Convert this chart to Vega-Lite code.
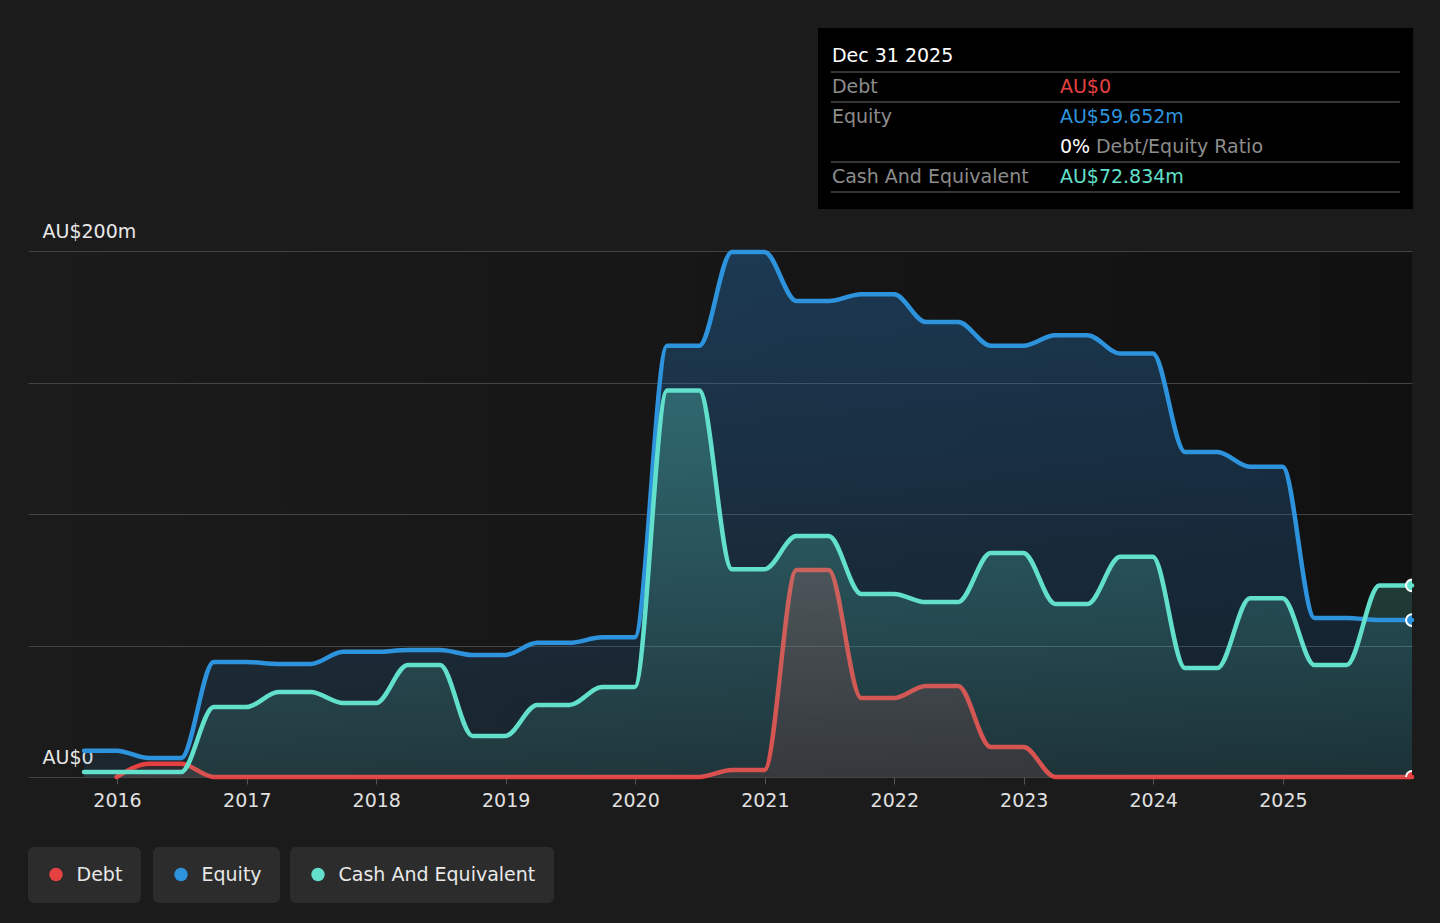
{
  "$schema": "https://vega.github.io/schema/vega-lite/v6.json",
  "width": 1384,
  "height": 526,
  "autosize": {"type": "none"},
  "padding": {"left": 28, "top": 251, "right": 28, "bottom": 146},
  "background": "#1b1b1b",
  "datasets": {
    "fin": [
      {"date": "2015-09-30", "equity": 10.0, "cash": 1.9, "debt": null},
      {"date": "2015-12-31", "equity": 10.0, "cash": 1.9, "debt": 0},
      {"date": "2016-03-31", "equity": 7.2, "cash": 1.9, "debt": 5.0},
      {"date": "2016-06-30", "equity": 7.2, "cash": 1.9, "debt": 5.0},
      {"date": "2016-09-30", "equity": 43.7, "cash": 26.6, "debt": 0},
      {"date": "2016-12-31", "equity": 43.7, "cash": 26.6, "debt": 0},
      {"date": "2017-03-31", "equity": 43.0, "cash": 32.3, "debt": 0},
      {"date": "2017-06-30", "equity": 43.0, "cash": 32.3, "debt": 0},
      {"date": "2017-09-30", "equity": 47.6, "cash": 28.1, "debt": 0},
      {"date": "2017-12-31", "equity": 47.6, "cash": 28.1, "debt": 0},
      {"date": "2018-03-31", "equity": 48.3, "cash": 42.6, "debt": 0},
      {"date": "2018-06-30", "equity": 48.3, "cash": 42.6, "debt": 0},
      {"date": "2018-09-30", "equity": 46.4, "cash": 15.6, "debt": 0},
      {"date": "2018-12-31", "equity": 46.4, "cash": 15.6, "debt": 0},
      {"date": "2019-03-31", "equity": 51.0, "cash": 27.4, "debt": 0},
      {"date": "2019-06-30", "equity": 51.0, "cash": 27.4, "debt": 0},
      {"date": "2019-09-30", "equity": 53.1, "cash": 34.2, "debt": 0},
      {"date": "2019-12-31", "equity": 53.1, "cash": 34.2, "debt": 0},
      {"date": "2020-03-31", "equity": 164.0, "cash": 147.0, "debt": 0},
      {"date": "2020-06-30", "equity": 164.0, "cash": 147.0, "debt": 0},
      {"date": "2020-09-30", "equity": 199.6, "cash": 79.0, "debt": 2.7},
      {"date": "2020-12-31", "equity": 199.6, "cash": 79.0, "debt": 2.7},
      {"date": "2021-03-31", "equity": 181.0, "cash": 91.6, "debt": 78.7},
      {"date": "2021-06-30", "equity": 181.0, "cash": 91.6, "debt": 78.7},
      {"date": "2021-09-30", "equity": 183.6, "cash": 69.6, "debt": 30.0},
      {"date": "2021-12-31", "equity": 183.6, "cash": 69.6, "debt": 30.0},
      {"date": "2022-03-31", "equity": 173.0, "cash": 66.5, "debt": 34.6},
      {"date": "2022-06-30", "equity": 173.0, "cash": 66.5, "debt": 34.6},
      {"date": "2022-09-30", "equity": 164.0, "cash": 85.2, "debt": 11.4},
      {"date": "2022-12-31", "equity": 164.0, "cash": 85.2, "debt": 11.4},
      {"date": "2023-03-31", "equity": 168.0, "cash": 65.8, "debt": 0},
      {"date": "2023-06-30", "equity": 168.0, "cash": 65.8, "debt": 0},
      {"date": "2023-09-30", "equity": 161.0, "cash": 83.7, "debt": 0},
      {"date": "2023-12-31", "equity": 161.0, "cash": 83.7, "debt": 0},
      {"date": "2024-03-31", "equity": 123.6, "cash": 41.4, "debt": 0},
      {"date": "2024-06-30", "equity": 123.6, "cash": 41.4, "debt": 0},
      {"date": "2024-09-30", "equity": 118.0, "cash": 68.0, "debt": 0},
      {"date": "2024-12-31", "equity": 118.0, "cash": 68.0, "debt": 0},
      {"date": "2025-03-31", "equity": 60.5, "cash": 42.6, "debt": 0},
      {"date": "2025-06-30", "equity": 60.5, "cash": 42.6, "debt": 0},
      {"date": "2025-09-30", "equity": 59.652, "cash": 72.834, "debt": 0},
      {"date": "2025-12-31", "equity": 59.652, "cash": 72.834, "debt": 0}
    ],
    "tip": [
      {"row": 0, "label": "Dec 31 2025", "value": "", "kind": "title", "extra": ""},
      {"row": 1, "label": "Debt", "value": "AU$0", "kind": "Debt", "extra": ""},
      {"row": 2, "label": "Equity", "value": "AU$59.652m", "kind": "Equity", "extra": ""},
      {"row": 3, "label": "", "value": "0%", "kind": "ratio", "extra": "Debt/Equity Ratio"},
      {"row": 4, "label": "Cash And Equivalent", "value": "AU$72.834m", "kind": "Cash", "extra": ""}
    ]
  },
  "layer": [
    {
      "data": {"name": "fin"},
      "encoding": {
        "x": {
          "field": "date",
          "type": "temporal",
          "scale": {"domain": [{"year": 2015, "month": 4, "date": 25}, {"year": 2025, "month": 12, "date": 31}]},
          "axis": {
            "format": "%Y",
            "tickCount": {"interval": "year", "step": 1},
            "grid": false,
            "domain": false,
            "tickColor": "#555555",
            "tickSize": 7,
            "labelFontSize": 19,
            "labelColor": "#e0e0e0",
            "labelPadding": 7,
            "labelFlush": false,
            "title": null
          }
        }
      },
      "layer": [
        {
          "mark": {
            "type": "area",
            "interpolate": "monotone",
            "color": {"gradient": "linear", "x1": 0, "y1": 0, "x2": 0, "y2": 1,
              "stops": [{"offset": 0, "color": "rgba(38,120,190,0.36)"}, {"offset": 1, "color": "rgba(38,120,190,0.12)"}]}
          },
          "encoding": {
            "y": {
              "field": "equity",
              "type": "quantitative",
              "scale": {"domain": [0, 200], "nice": false, "zero": true},
              "axis": {
                "values": [0, 50, 100, 150, 200],
                "labelExpr": "datum.value == 0 ? 'AU$0' : (datum.value == 200 ? 'AU$200m' : '')",
                "grid": true,
                "gridColor": "#444444",
                "gridWidth": 1,
                "domain": false,
                "ticks": false,
                "tickSize": 0,
                "labelAlign": "left",
                "labelBaseline": "alphabetic",
                "labelPadding": -14,
                "labelOffset": -14,
                "labelFontSize": 19,
                "labelColor": "#e8e8e8",
                "labelFlush": false,
                "labelOverlap": false,
                "title": null
              }
            }
          }
        },
        {
          "mark": {
            "type": "area",
            "interpolate": "monotone",
            "color": {"gradient": "linear", "x1": 0, "y1": 0, "x2": 0, "y2": 1,
              "stops": [{"offset": 0, "color": "rgba(230,65,65,0.22)"}, {"offset": 1, "color": "rgba(230,65,65,0.12)"}]}
          },
          "encoding": {"y": {"field": "debt", "type": "quantitative"}}
        },
        {
          "mark": {"type": "line", "interpolate": "monotone", "color": "#e64141", "strokeWidth": 4.5, "strokeCap": "round"},
          "encoding": {"y": {"field": "debt", "type": "quantitative"}}
        },
        {
          "mark": {
            "type": "area",
            "interpolate": "monotone",
            "color": {"gradient": "linear", "x1": 0, "y1": 0, "x2": 0, "y2": 1,
              "stops": [{"offset": 0, "color": "rgba(95,224,200,0.30)"}, {"offset": 1, "color": "rgba(95,224,200,0.10)"}]}
          },
          "encoding": {"y": {"field": "cash", "type": "quantitative"}}
        },
        {
          "mark": {"type": "line", "interpolate": "monotone", "color": "#2e93dd", "strokeWidth": 4.5, "strokeCap": "round"},
          "encoding": {"y": {"field": "equity", "type": "quantitative"}}
        },
        {
          "mark": {"type": "line", "interpolate": "monotone", "color": "#62e0cb", "strokeWidth": 4.5, "strokeCap": "round"},
          "encoding": {"y": {"field": "cash", "type": "quantitative"}}
        },
        {
          "transform": [{"filter": "utcyear(datum.date) == 2025 && utcmonth(datum.date) == 11"}],
          "mark": {"type": "point", "filled": true, "opacity": 1, "size": 140, "stroke": "#ffffff", "strokeWidth": 2, "clip": true},
          "encoding": {
            "y": {"field": "debt", "type": "quantitative"},
            "fill": {
              "datum": "Debt",
              "type": "nominal",
              "scale": {"domain": ["Debt"], "range": ["#e64141"]},
              "legend": {"orient": "none", "legendX": 0, "legendY": 596, "title": null}
            }
          }
        },
        {
          "transform": [{"filter": "utcyear(datum.date) == 2025 && utcmonth(datum.date) == 11"}],
          "mark": {"type": "point", "filled": true, "opacity": 1, "size": 140, "stroke": "#ffffff", "strokeWidth": 2, "clip": true},
          "encoding": {
            "y": {"field": "equity", "type": "quantitative"},
            "color": {
              "datum": "Equity",
              "type": "nominal",
              "scale": {"domain": ["Equity"], "range": ["#2e93dd"]},
              "legend": {"orient": "none", "legendX": 125, "legendY": 596, "title": null}
            }
          }
        },
        {
          "transform": [{"filter": "utcyear(datum.date) == 2025 && utcmonth(datum.date) == 11"}],
          "mark": {"type": "point", "filled": true, "opacity": 1, "size": 140, "fill": "#62e0cb", "color": "#62e0cb", "stroke": "#ffffff", "strokeWidth": 2, "clip": true},
          "encoding": {
            "y": {"field": "cash", "type": "quantitative"},
            "shape": {
              "datum": "Cash And Equivalent",
              "type": "nominal",
              "scale": {"domain": ["Cash And Equivalent"], "range": ["circle"]},
              "legend": {"orient": "none", "legendX": 262, "legendY": 596, "title": null, "symbolFillColor": "#62e0cb"}
            }
          }
        }
      ]
    },
    {
      "data": {"name": "tip"},
      "encoding": {
        "y": {"field": "row", "type": "quantitative", "scale": {"domain": [0, 4], "range": [-196, -76], "zero": false, "nice": false}, "axis": null}
      },
      "layer": [
        {
          "transform": [{"filter": "datum.row == 0"}],
          "mark": {"type": "rect", "color": "#000000"},
          "encoding": {
            "x": {"datum": {"year": 2021, "month": 5, "date": 31}, "type": "temporal"},
            "x2": {"datum": {"year": 2026, "month": 1, "date": 3}},
            "y": {"datum": -0.9, "type": "quantitative"},
            "y2": {"datum": 5.133}
          }
        },
        {
          "transform": [{"filter": "datum.row != 2"}],
          "mark": {"type": "rule", "color": "#474747", "strokeWidth": 1.5, "yOffset": 17},
          "encoding": {
            "x": {"datum": {"year": 2021, "month": 7, "date": 6}, "type": "temporal"},
            "x2": {"datum": {"year": 2025, "month": 11, "date": 27}}
          }
        },
        {
          "transform": [{"filter": "datum.row == 0"}],
          "mark": {"type": "text", "align": "left", "baseline": "middle", "fontSize": 19, "color": "#ffffff", "dy": 1},
          "encoding": {
            "x": {"datum": {"year": 2021, "month": 7, "date": 9}, "type": "temporal"},
            "text": {"field": "label"}
          }
        },
        {
          "transform": [{"filter": "datum.row > 0"}],
          "mark": {"type": "text", "align": "left", "baseline": "middle", "fontSize": 19, "color": "#8c8c8c", "dy": 2},
          "encoding": {
            "x": {"datum": {"year": 2021, "month": 7, "date": 9}, "type": "temporal"},
            "text": {"field": "label"}
          }
        },
        {
          "transform": [{"filter": "datum.row > 0"}],
          "mark": {"type": "text", "align": "left", "baseline": "middle", "fontSize": 19, "dy": 2},
          "encoding": {
            "x": {"datum": {"year": 2023, "month": 4, "date": 13}, "type": "temporal"},
            "text": {"field": "value"},
            "color": {
              "condition": [
                {"test": "datum.kind == 'Debt'", "value": "#e64141"},
                {"test": "datum.kind == 'Equity'", "value": "#2e93dd"},
                {"test": "datum.kind == 'Cash'", "value": "#62e0cb"}
              ],
              "value": "#ffffff"
            }
          }
        },
        {
          "transform": [{"filter": "datum.row == 3"}],
          "mark": {"type": "text", "align": "left", "baseline": "middle", "fontSize": 19, "color": "#8c8c8c", "dx": 36, "dy": 2},
          "encoding": {
            "x": {"datum": {"year": 2023, "month": 4, "date": 13}, "type": "temporal"},
            "text": {"field": "extra"}
          }
        }
      ]
    }
  ],
  "resolve": {"scale": {"y": "independent"}},
  "config": {
    "font": "DejaVu Sans",
    "view": {
      "stroke": null,
      "fill": {"gradient": "linear", "x1": 0, "y1": 0, "x2": 1, "y2": 0,
        "stops": [{"offset": 0, "color": "#1b1b1b"}, {"offset": 1, "color": "#111111"}]}
    },
    "axis": {"labelFont": "DejaVu Sans"},
    "legend": {
      "direction": "horizontal",
      "fillColor": "#2c2c2c",
      "cornerRadius": 6,
      "padding": 18,
      "symbolType": "circle",
      "symbolSize": 180,
      "symbolStrokeWidth": 0,
      "symbolOffset": 0.5,
      "labelFont": "DejaVu Sans",
      "labelFontSize": 19,
      "labelColor": "#e8e8e8",
      "labelOffset": 11,
      "labelLimit": 600
    }
  }
}
